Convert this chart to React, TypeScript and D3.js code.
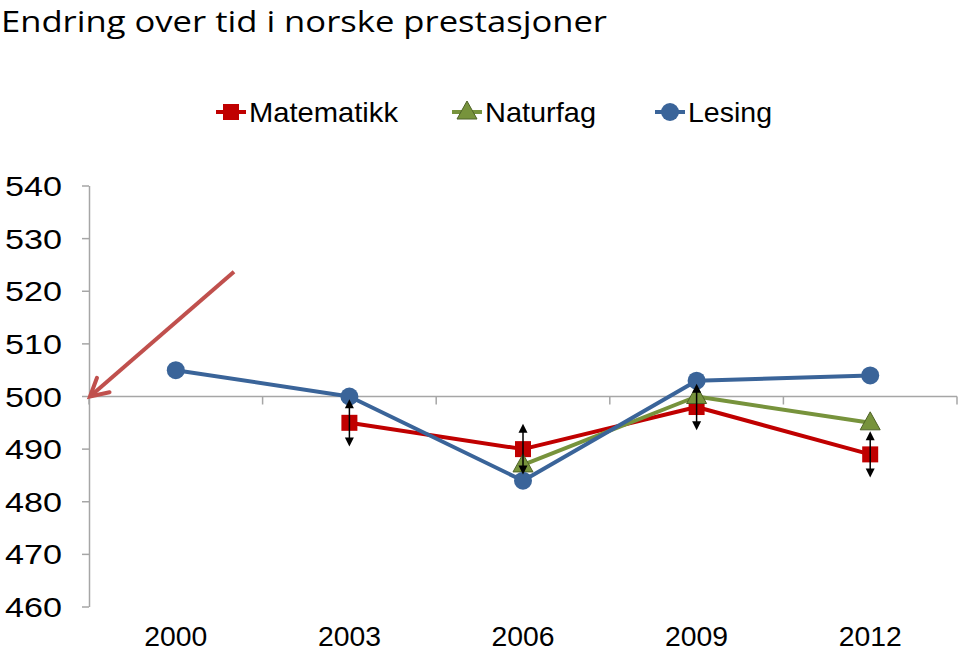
import { useEffect, useRef } from 'react';
import * as d3 from 'd3';

const years = ['2000', '2003', '2006', '2009', '2012'];
const matematikk: (number | null)[] = [null, 495, 490, 498, 489];
const naturfag: (number | null)[] = [null, null, 487, 500, 495];
const lesing: (number | null)[] = [505, 500, 484, 503, 504];
// uncertainty for matematikk (+/-)
const matteFeil: (number | null)[] = [null, 4.5, 4.8, 4.4, 4.4];
const yTicks = [460, 470, 480, 490, 500, 510, 520, 530, 540];

const App = () => {
  const svgRef = useRef<SVGSVGElement>(null!);
  const width = 960;
  const height = 652;

  useEffect(() => {
    const svg = d3.select(svgRef.current);
    svg.selectAll('*').remove();

    const x = d3.scaleBand<string>().domain(years).range([89, 957]);
    const cx = (y: string) => x(y)! + x.bandwidth() / 2;
    const y = d3.scaleLinear().domain([460, 540]).range([607, 186]);
    const font = 'Liberation Sans, Arial, sans-serif';

    // title
    svg
      .append('text')
      .attr('x', 1)
      .attr('y', 32)
      .attr('font-family', 'Open Sans, sans-serif')
      .attr('font-size', 30)
      .attr('textLength', 606)
      .attr('lengthAdjust', 'spacingAndGlyphs')
      .attr('fill', '#000')
      .text('Endring over tid i norske prestasjoner');

    // y axis
    const axisColor = '#a6a6a6';
    svg
      .append('line')
      .attr('x1', 89.5)
      .attr('x2', 89.5)
      .attr('y1', y(540))
      .attr('y2', y(460))
      .attr('stroke', axisColor)
      .attr('stroke-width', 1.5);
    const yt = svg.append('g').selectAll('g').data(yTicks).enter().append('g');
    yt.append('line')
      .attr('x1', 82)
      .attr('x2', 89)
      .attr('y1', d => y(d))
      .attr('y2', d => y(d))
      .attr('stroke', axisColor)
      .attr('stroke-width', 1.5);
    yt.append('text')
      .attr('x', 62)
      .attr('y', d => y(d))
      .attr('dy', '0.36em')
      .attr('text-anchor', 'end')
      .attr('font-family', font)
      .attr('font-size', 28)
      .attr('textLength', 57)
      .attr('lengthAdjust', 'spacingAndGlyphs')
      .text(d => d);

    // x axis crossing at 500
    svg
      .append('line')
      .attr('x1', 89)
      .attr('x2', 957)
      .attr('y1', y(500))
      .attr('y2', y(500))
      .attr('stroke', axisColor)
      .attr('stroke-width', 1.5);
    const xEdges = years.map(d => x(d)!).concat([x.range()[1]]);
    svg
      .append('g')
      .selectAll('line')
      .data(xEdges)
      .enter()
      .append('line')
      .attr('x1', d => d)
      .attr('x2', d => d)
      .attr('y1', y(500))
      .attr('y2', y(500) + 8)
      .attr('stroke', axisColor)
      .attr('stroke-width', 1.5);
    svg
      .append('g')
      .selectAll('text')
      .data(years)
      .enter()
      .append('text')
      .attr('x', d => cx(d))
      .attr('y', 646)
      .attr('text-anchor', 'middle')
      .attr('font-family', font)
      .attr('font-size', 28)
      .attr('textLength', 63)
      .attr('lengthAdjust', 'spacingAndGlyphs')
      .text(d => d);

    // red annotation arrow pointing at 500
    const ax0 = 234, ay0 = y(523.7);
    const ax1 = 90, ay1 = y(500);
    const ang = Math.atan2(ay1 - ay0, ax1 - ax0);
    const ah = 20;
    const arrowColor = '#c0504d';
    svg
      .append('line')
      .attr('x1', ax0)
      .attr('y1', ay0)
      .attr('x2', ax1)
      .attr('y2', ay1)
      .attr('stroke', arrowColor)
      .attr('stroke-width', 4);
    svg
      .append('path')
      .attr(
        'd',
        `M${ax1 - ah * Math.cos(ang - 0.5)},${ay1 - ah * Math.sin(ang - 0.5)}L${ax1},${ay1}L${ax1 - ah * Math.cos(ang + 0.5)},${ay1 - ah * Math.sin(ang + 0.5)}`
      )
      .attr('fill', 'none')
      .attr('stroke', arrowColor)
      .attr('stroke-width', 4)
      .attr('stroke-linecap', 'round');

    const series = [
      { name: 'Matematikk', data: matematikk, color: '#c00000', shape: 'square', tl: 149 },
      { name: 'Naturfag', data: naturfag, color: '#77933c', shape: 'triangle', tl: 111 },
      { name: 'Lesing', data: lesing, color: '#3a6499', shape: 'circle', tl: 84 },
    ];

    const marker = (g: d3.Selection<SVGGElement, unknown, null, undefined>, shape: string, color: string, px: number, py: number) => {
      if (shape === 'square') {
        g.append('rect').attr('x', px - 8).attr('y', py - 8).attr('width', 16).attr('height', 16).attr('fill', color);
      } else if (shape === 'triangle') {
        g.append('path')
          .attr('d', `M${px},${py - 11}L${px + 10},${py + 7}L${px - 10},${py + 7}Z`)
          .attr('fill', '#77933c')
          .attr('stroke', '#4f6228')
          .attr('stroke-width', 1);
      } else {
        g.append('circle').attr('cx', px).attr('cy', py).attr('r', 9).attr('fill', color);
      }
    };

    series.forEach(s => {
      const pts = years.map((yr, i) => ({ yr, v: s.data[i] })).filter(p => p.v != null) as { yr: string; v: number }[];
      const line = d3
        .line<{ yr: string; v: number }>()
        .x(p => cx(p.yr))
        .y(p => y(p.v));
      const g = svg.append('g');
      g.append('path')
        .attr('d', line(pts))
        .attr('fill', 'none')
        .attr('stroke', s.color)
        .attr('stroke-width', 4)
        .attr('stroke-linejoin', 'round');
      pts.forEach(p => marker(g, s.shape, s.color, cx(p.yr), y(p.v)));
    });

    // double-headed uncertainty arrows on matematikk
    const eg = svg.append('g');
    years.forEach((yr, i) => {
      const v = matematikk[i];
      const e = matteFeil[i];
      if (v == null || e == null) return;
      const px = cx(yr);
      const top = y(v + e);
      const bot = y(v - e);
      eg.append('line')
        .attr('x1', px)
        .attr('x2', px)
        .attr('y1', top + 4)
        .attr('y2', bot - 4)
        .attr('stroke', '#000')
        .attr('stroke-width', 1.5);
      eg.append('path').attr('d', `M${px},${top}L${px + 4.5},${top + 9}L${px - 4.5},${top + 9}Z`).attr('fill', '#000');
      eg.append('path').attr('d', `M${px},${bot}L${px + 4.5},${bot - 9}L${px - 4.5},${bot - 9}Z`).attr('fill', '#000');
    });

    // legend
    const legendX = [231, 467, 670];
    series.forEach((s, i) => {
      const g = svg.append('g');
      const lx = legendX[i];
      const ly = 112;
      g.append('line')
        .attr('x1', lx - 15)
        .attr('x2', lx + 15)
        .attr('y1', ly)
        .attr('y2', ly)
        .attr('stroke', s.color)
        .attr('stroke-width', 4);
      marker(g, s.shape, s.color, lx, ly);
      g.append('text')
        .attr('x', lx + 18)
        .attr('y', ly)
        .attr('dy', '0.36em')
        .attr('font-family', font)
        .attr('font-size', 28)
        .attr('textLength', s.tl)
        .attr('lengthAdjust', 'spacingAndGlyphs')
        .text(s.name);
    });
  }, []);

  return (
    <svg
      ref={svgRef}
      width={width}
      height={height}
      style={{ position: 'absolute', left: 0, top: 0, background: '#fff' }}
    ></svg>
  );
};

export default App;
